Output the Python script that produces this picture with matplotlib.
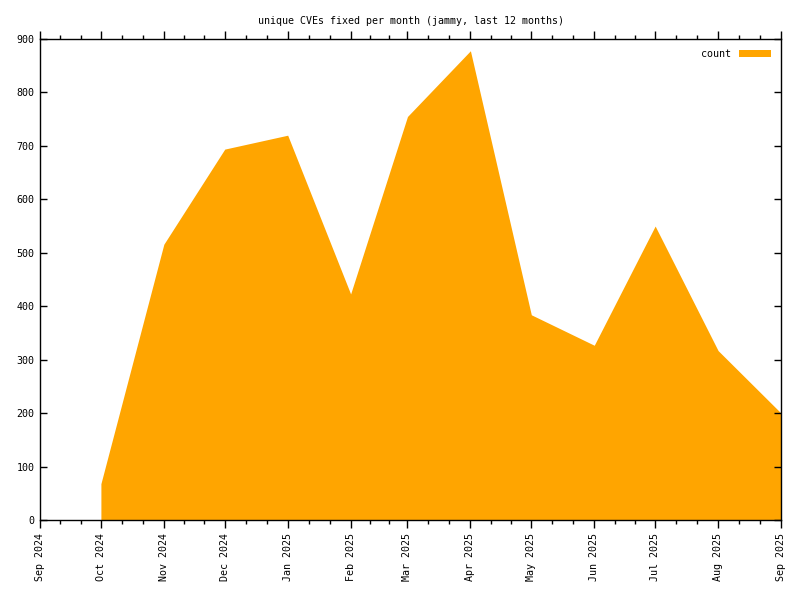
import datetime as dt
import matplotlib
matplotlib.use("Agg")
import matplotlib.pyplot as plt
import matplotlib.dates as mdates

# monthly counts (first day of each month)
months = ["2024-10", "2024-11", "2024-12", "2025-01", "2025-02", "2025-03",
          "2025-04", "2025-05", "2025-06", "2025-07", "2025-08", "2025-09"]
counts = [68, 516, 694, 720, 423, 755, 878, 384, 327, 550, 317, 200]

tick_months = ["2024-09"] + months
title = "unique CVEs fixed per month (jammy, last 12 months)"
fill_color = "#ffa500"

dates = [dt.datetime.strptime(m, "%Y-%m") for m in months]
tick_dates = [dt.datetime.strptime(m, "%Y-%m") for m in tick_months]

plt.rcParams['font.family'] = ['DejaVu Sans Mono']
plt.rcParams['font.size'] = 7.2

fig = plt.figure(figsize=(8, 6), dpi=100)
ax = fig.add_axes([0.05, 0.1333, 0.9263, 0.8017])

ax.fill_between(dates, counts, 0, color=fill_color, linewidth=0, label="count")

ax.set_xlim(tick_dates[0], tick_dates[-1])
ax.set_ylim(0, 900)
ax.set_yticks(range(0, 901, 100))

# x: major ticks at months, minor ticks at thirds of a month
ax.set_xticks(tick_dates)
ax.set_xticklabels([d.strftime("%b %Y") for d in tick_dates], rotation=90, va="top", ha="center")
minors = []
for a, b in zip(tick_dates[:-1], tick_dates[1:]):
    minors.append(a + (b - a) / 3)
    minors.append(a + (b - a) * 2 / 3)
ax.set_xticks(minors, minor=True)

ax.tick_params(axis="x", which="both", direction="out", top=True, bottom=True, labeltop=False)
ax.tick_params(axis="x", which="major", length=6, width=1, pad=3)
ax.tick_params(axis="x", which="minor", length=3, width=1)
ax.tick_params(axis="y", which="major", direction="in", left=True, right=True, length=5, width=1, pad=4)

for sp in ax.spines.values():
    sp.set_linewidth(1)
    sp.set_color("black")

ax.set_title(title, fontsize=7.2, pad=11)

leg = ax.legend(loc="upper right", frameon=False, markerfirst=False, handlelength=3.2,
                handleheight=0.7, borderaxespad=0.6, handletextpad=0.8)

fig.savefig("out.png", dpi=100)
